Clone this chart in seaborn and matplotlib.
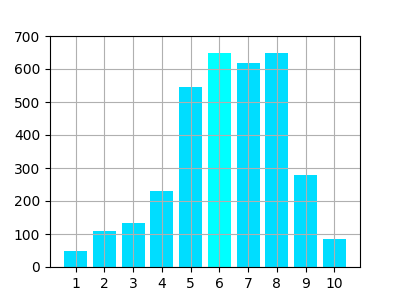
import matplotlib
matplotlib.use("Agg")
import matplotlib.pyplot as plt
import seaborn as sns
import pandas as pd

categories = [1, 2, 3, 4, 5, 6, 7, 8, 9, 10]
values = [48, 109, 134, 230, 545, 648, 618, 648, 279, 85]
highlight = 6
base_color = "#00DDFF"
highlight_color = "#00FFFF"

df = pd.DataFrame({"x": categories, "y": values})
palette = {c: (highlight_color if c == highlight else base_color) for c in categories}

fig, ax = plt.subplots(figsize=(4, 3), dpi=100)
sns.barplot(data=df, x="x", y="y", hue="x", palette=palette, legend=False,
            native_scale=True, saturation=1, width=0.8, ax=ax)
ax.set_xlabel("")
ax.set_ylabel("")
ax.set_xticks(categories)
ax.set_xticklabels([str(c) for c in categories])
ax.set_ylim(0, 700)
ax.set_yticks(range(0, 701, 100))
ax.grid(True)
ax.set_xlim(0.11, 10.89)
fig.savefig("out.png", dpi=100)
